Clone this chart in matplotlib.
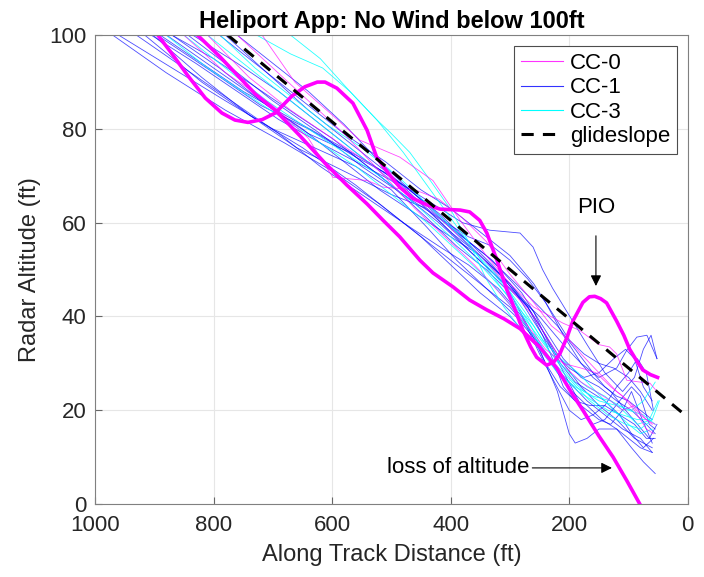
import matplotlib
matplotlib.use('Agg')
import matplotlib.pyplot as plt
import numpy as np

plt.rcParams['font.family'] = ['Liberation Sans', 'DejaVu Sans']

# glideslope end points (distance ft, altitude ft)
glide_d = [776, 0]
glide_alt = [100, 18.5]

# thick CC-0 runs (distance, altitude)
pio_d = [894, 870, 843, 814, 786, 764, 742, 718, 696, 668, 646, 625, 612, 592, 565, 541,
         525, 505, 486, 464, 440, 418, 384, 368, 351, 339, 322, 305, 290, 278, 265, 255,
         238, 226, 216, 204, 194, 177, 166, 157, 147, 137, 120, 108, 98, 86, 76, 63, 51]
pio_alt = [100, 96, 91.3, 86.6, 83.4, 81.9, 81.4, 82, 83.4, 87, 89, 90, 90, 88.7, 85.5, 79.7,
           74, 70.5, 67.6, 65.2, 63.8, 62.9, 62.7, 62.3, 60.5, 57.8, 52, 45.6, 41, 37, 33.5, 31.3,
           29.6, 30.3, 32, 35.5, 39, 43, 44.2, 44.3, 43.8, 42.9, 39, 36, 33, 30.5, 28.6, 27.6, 27]
loss_d = [827, 790, 760, 730, 696, 654, 612, 575, 541, 514, 486, 452, 430, 396, 368, 339,
          310, 283, 250, 221, 195, 177, 150, 126, 103, 81]
loss_alt = [100, 95.5, 91.5, 87.5, 84, 78.5, 72.7, 68, 64, 60.5, 57, 52, 49.3, 46.3, 43.5, 41.4,
            39.5, 37.4, 33.5, 29, 23.5, 20, 14.5, 10, 5, 0]

# thin CC-1 runs
cc1_runs = [
    ([970, 880, 780, 680, 600, 520, 450, 400, 350, 300, 250, 220, 200, 190, 170, 150, 120, 95, 75, 55],
     [100, 92, 84, 77, 71, 64, 57, 51, 45, 40, 33, 24, 15, 13, 14, 16, 16, 12, 9, 6.5]),
    ([916, 820, 740, 650, 560, 480, 420, 360, 300, 260, 230, 200, 170, 140, 110, 80, 60],
     [100, 90, 83, 76, 68, 60, 54, 48, 42, 36, 30, 26, 22, 19, 16, 14, 11]),
    ([902, 820, 740, 660, 580, 500, 440, 380, 330, 280, 240, 210, 180, 150, 120, 95, 70, 55],
     [100, 91, 83, 76, 71, 66, 63, 57, 52, 45, 37, 31, 27, 25, 22, 20, 17, 15]),
    ([895, 800, 720, 640, 560, 500, 440, 400, 360, 310, 270, 240, 210, 180, 150, 120, 90, 60],
     [100, 92, 85, 80, 74, 70, 63, 58, 53, 47, 42, 36, 30, 25, 21, 18, 14, 12]),
    ([879, 800, 720, 650, 580, 520, 460, 400, 350, 300, 260, 230, 205, 180, 160, 140, 115, 95, 80, 65, 55],
     [100, 93, 86, 80, 73, 67, 62, 57, 53, 47, 41, 33, 27, 21, 17, 18, 22, 25, 23, 17, 16]),
    ([870, 790, 710, 640, 570, 500, 440, 390, 340, 300, 270, 240, 215, 190, 165, 140, 120, 100, 85, 70, 58],
     [100, 93, 85, 79, 75, 68, 61, 55, 50, 45, 38, 30, 25, 22, 21, 21, 25, 28, 31, 28, 20]),
    ([843, 770, 700, 620, 550, 480, 420, 370, 330, 300, 270, 240, 210, 180, 160, 130, 105, 85, 65, 52],
     [100, 93, 86, 79, 72, 66, 61, 57, 55, 52, 48, 43, 36, 30, 27, 24, 20, 17, 14, 17]),
    ([835, 760, 690, 610, 540, 480, 430, 380, 334, 300, 283, 261, 245, 228, 199, 170, 140, 110, 90, 75, 62, 52],
     [100, 94, 88, 80, 73, 68, 64, 60, 58.4, 58, 57.8, 54.8, 50, 46, 40, 34, 28, 24, 27, 33, 36, 31]),
    ([790, 720, 650, 580, 510, 450, 400, 350, 300, 260, 230, 200, 175, 150, 125, 100, 80, 60],
     [100, 93, 86, 79, 73, 67, 63, 58, 53, 47, 41, 35, 32, 30, 29, 27, 24, 20]),
    ([780, 710, 640, 570, 500, 440, 390, 340, 290, 250, 220, 190, 160, 140, 120, 100, 80, 60],
     [100, 92, 84, 77, 70, 64, 58, 53, 47, 42, 38, 33, 28, 25, 23, 22, 20, 18]),
    ([760, 700, 640, 580, 520, 460, 410, 360, 310, 270, 240, 215, 190, 165, 140, 115, 90, 70, 55],
     [100, 94, 88, 81, 73, 66, 60, 54, 48, 42, 36, 30, 26, 24, 22, 19, 17, 14, 14]),
    ([960, 870, 780, 700, 630, 560, 500, 440, 390, 340, 290, 250, 220, 195, 170, 145, 120, 100, 80, 60],
     [100, 93, 86, 80, 76, 72, 67, 59, 52, 46, 40, 34, 28, 24, 21, 18, 16, 14, 12, 11]),
    ([930, 850, 770, 690, 620, 550, 480, 420, 370, 320, 280, 250, 225, 200, 180, 160, 140, 115, 95, 75, 58],
     [100, 93, 86, 79, 72, 66, 60, 55, 51, 46, 40, 32, 26, 20, 18, 19, 21, 19, 15, 12, 14]),
    ([890, 820, 750, 680, 610, 540, 480, 420, 370, 330, 290, 260, 230, 200, 175, 150, 125, 105, 90, 75, 60],
     [100, 94, 88, 83, 78, 73, 68, 62, 56, 51, 45, 39, 33, 29, 27, 28, 31, 33, 31, 25, 22]),
    ([870, 800, 730, 660, 600, 530, 470, 420, 360, 300, 250, 210, 180, 150, 120, 103, 86, 69, 52],
     [100, 95, 89, 83, 78, 71, 65, 60, 53, 46, 40, 34, 30, 27, 29, 32.8, 35.6, 36, 31]),
    ([905, 830, 760, 690, 620, 560, 500, 450, 400, 350, 300, 270, 245, 225, 210, 190, 170, 150, 130, 110, 95, 80, 60],
     [100, 94, 88, 82, 77, 73, 69, 64, 58, 53, 47, 42, 36, 30, 25, 22, 20, 18, 17, 20, 24, 19, 13]),
]

# thin CC-3 runs
cc3_runs = [
    ([789, 730, 670, 610, 550, 490, 440, 390, 340, 300, 265, 235, 210, 185, 160, 135, 110, 85, 65, 50],
     [100, 93, 87, 81, 76, 70, 64, 58, 51, 45, 38, 31, 27, 24, 22, 20, 19, 18, 18, 22]),
    ([727, 670, 616, 570, 525, 500, 469, 440, 401, 370, 340, 310, 280, 250, 220, 190, 160, 130, 100, 75, 55],
     [100, 96, 93, 88, 82, 79, 75, 70, 63, 56, 48, 42, 37, 33, 28, 25, 23, 22, 20, 19, 17]),
    ([670, 620, 570, 525, 480, 440, 400, 360, 320, 290, 260, 230, 200, 170, 140, 110, 85, 60, 48],
     [100, 95, 88, 82, 75, 68, 61, 54, 47, 42, 37, 32, 28, 25, 23, 20, 17, 18, 22]),
    ([850, 780, 710, 640, 580, 520, 460, 400, 350, 300, 260, 230, 200, 175, 150, 120, 95, 75, 55],
     [100, 93, 86, 80, 75, 70, 64, 57, 51, 44, 38, 32, 27, 24, 22, 21, 20, 22, 26]),
    ([880, 810, 740, 680, 620, 560, 500, 440, 380, 330, 290, 255, 225, 195, 165, 135, 105, 80, 60],
     [100, 93, 87, 82, 77, 72, 66, 60, 53, 47, 41, 35, 30, 26, 22, 19, 17, 16, 18]),
    ([810, 750, 690, 630, 570, 510, 450, 400, 350, 310, 275, 245, 215, 185, 155, 125, 100, 80, 60],
     [100, 94, 88, 82, 76, 70, 64, 59, 53, 47, 41, 35, 31, 28, 24, 20, 17, 15, 16]),
]

# thin CC-0 runs
cc0_runs = [
    ([718, 663, 600, 553, 486, 430, 384, 340, 300, 260, 211, 182, 150, 132, 120, 103, 80, 64, 52],
     [100, 90, 83, 77.6, 74, 69, 60.5, 53, 47, 42, 38.6, 37, 34, 33.5, 32, 26.4, 26, 25.8, 24]),
    ([850, 780, 700, 640, 599, 541, 514, 460, 420, 380, 340, 300, 260, 230, 200, 180, 150, 120, 100, 80, 60],
     [100, 92, 85, 78, 69.7, 69, 67.6, 67, 65, 61, 56, 49, 43, 38, 35, 32, 28, 24, 22, 19, 17]),
    ([810, 740, 670, 600, 530, 470, 410, 350, 300, 260, 230, 205, 180, 155, 130, 110, 90, 70, 55],
     [100, 91, 84, 78, 72, 66, 60, 53, 46, 40, 34, 29, 26, 24, 22, 20, 21, 18, 17]),
    ([760, 700, 640, 580, 520, 460, 410, 360, 310, 270, 240, 210, 180, 155, 130, 110, 90, 70, 58],
     [100, 93, 86, 79, 71, 63, 57, 51, 44, 38, 33, 30, 29, 28, 25, 23, 20, 16, 15]),
]

labels = ['CC-0', 'CC-1', 'CC-3', 'glideslope']
magenta = (1, 0, 1)
blue = (0, 0, 1)
cyan = (0, 1, 1)

fig = plt.figure(figsize=(7.04, 5.77), dpi=100)
ax = fig.add_axes([0.135, 0.1265, 0.842, 0.8125])

for d, a in cc1_runs:
    ax.plot(d, a, color=blue, lw=0.6, alpha=0.7)
for d, a in cc3_runs:
    ax.plot(d, a, color=cyan, lw=0.6, alpha=0.85)
for d, a in cc0_runs:
    ax.plot(d, a, color=magenta, lw=0.6, alpha=0.7)

ax.plot(pio_d, pio_alt, color=magenta, lw=2.6, solid_joinstyle='round')
ax.plot(loss_d, loss_alt, color=magenta, lw=2.6, solid_joinstyle='round')
ax.plot(glide_d, glide_alt, color='k', lw=2.2, ls=(0, (4, 3)))

# legend handles
h0, = ax.plot([], [], color=magenta, lw=0.8, alpha=0.8)
h1, = ax.plot([], [], color=blue, lw=0.8, alpha=0.8)
h3, = ax.plot([], [], color=cyan, lw=0.8)
hg, = ax.plot([], [], color='k', lw=2.2, ls=(0, (4, 3)))
leg = ax.legend([h0, h1, h3, hg], labels, loc='upper right', fontsize=16,
                fancybox=False, framealpha=1, edgecolor='0.3', handlelength=1.9,
                borderaxespad=0.5, labelspacing=0.15, handletextpad=0.3,
                borderpad=0.3)
leg.get_frame().set_linewidth(0.8)

ax.annotate('PIO', xy=(155, 46.5), xytext=(155, 63.3), ha='center', va='center', fontsize=16,
            arrowprops=dict(arrowstyle='-|>', color='k', lw=0.8, mutation_scale=16,
                            shrinkA=11, shrinkB=0))
ax.annotate('loss of altitude', xy=(128, 7.7), xytext=(267, 7.7), ha='right', va='center',
            fontsize=16, arrowprops=dict(arrowstyle='-|>', color='k', lw=0.8,
                                         mutation_scale=16, shrinkA=0, shrinkB=0))

ax.set_xlim(1000, 0)
ax.set_ylim(0, 100)
ax.set_xticks([1000, 800, 600, 400, 200, 0])
ax.set_yticks([0, 20, 40, 60, 80, 100])
ax.tick_params(direction='in', labelsize=16, length=5, color='0.4', labelcolor='0.15')
ax.tick_params(axis='x', pad=8)
ax.tick_params(axis='y', pad=6)
ax.grid(True, color='0.9', lw=0.8)
ax.set_axisbelow(True)
for s in ax.spines.values():
    s.set_color('0.5')
ax.set_xlabel('Along Track Distance (ft)', fontsize=17, color='0.15', labelpad=6)
ax.set_ylabel('Radar Altitude (ft)', fontsize=17, color='0.15', labelpad=6)
ax.set_title('Heliport App: No Wind below 100ft', fontsize=17, fontweight='bold', pad=5)

fig.savefig('out.png', dpi=100)
